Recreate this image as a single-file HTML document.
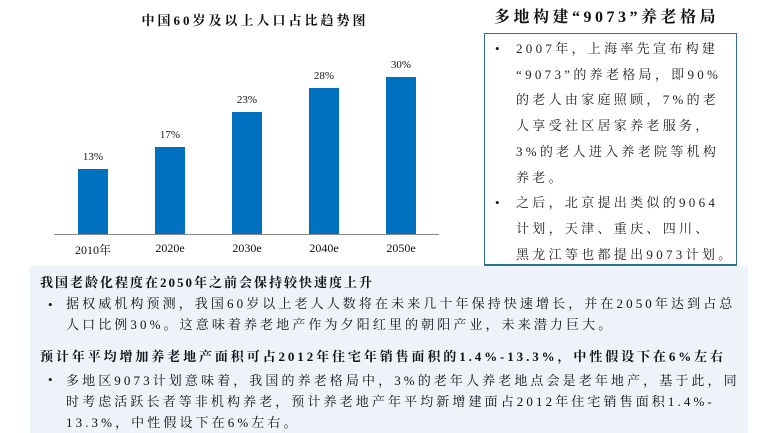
<!DOCTYPE html>
<html><head><meta charset="utf-8"><style>
*{margin:0;padding:0;box-sizing:border-box}
body{width:772px;height:433px;background:#fff;position:relative;overflow:hidden;font-family:"Liberation Serif","Noto Serif CJK SC",serif;color:#111}
.a{position:absolute;white-space:nowrap}
.bar{position:absolute;background:#0070c0;width:30px}
.lbl{position:absolute;font-size:11px;width:40px;text-align:center}
.cat{position:absolute;font-size:12px;width:60px;text-align:center;top:241px}
</style></head><body>
<div class="a" style="left:0;width:510px;top:10px;text-align:center;font-weight:bold;font-size:13px;letter-spacing:3px">中国60岁及以上人口占比趋势图</div>
<div class="a" style="left:54px;top:234px;width:385px;height:1px;background:#888"></div>
<div class="bar" style="left:78px;top:169px;height:65px"></div>
<div class="bar" style="left:155px;top:147px;height:87px"></div>
<div class="bar" style="left:232px;top:112px;height:122px"></div>
<div class="bar" style="left:309px;top:88px;height:146px"></div>
<div class="bar" style="left:386px;top:77px;height:157px"></div>
<div class="lbl" style="left:73px;top:151px">13%</div>
<div class="lbl" style="left:150px;top:129px">17%</div>
<div class="lbl" style="left:227px;top:94px">23%</div>
<div class="lbl" style="left:304px;top:70px">28%</div>
<div class="lbl" style="left:381px;top:59px">30%</div>
<div class="cat" style="left:63px">2010年</div>
<div class="cat" style="left:140px">2020e</div>
<div class="cat" style="left:217px">2030e</div>
<div class="cat" style="left:294px">2040e</div>
<div class="cat" style="left:371px">2050e</div>

<div class="a" style="left:494px;top:4px;font-weight:bold;font-size:16px;letter-spacing:3.5px">多地构建“9073”养老格局</div>
<div class="a" style="left:484px;top:33px;width:253px;height:232px;border:1px solid #31708f;background:#fff"></div>
<div class="a" style="left:495px;top:36px;font-size:13px;line-height:25.7px">
•<br><br><br><br><br><br>•</div>
<div class="a" style="left:516px;top:36px;font-size:13px;line-height:25.7px;color:#222;letter-spacing:3.3px">2007年，上海率先宣布构建<br>“9073”的养老格局，即90%<br>的老人由家庭照顾，7%的老<br>人享受社区居家养老服务，<br>3%的老人进入养老院等机构<br>养老。<br>之后，北京提出类似的9064<br>计划，天津、重庆、四川、<br>黑龙江等也都提出9073计划。</div>

<div class="a" style="left:30px;top:266px;width:718px;height:167px;background:#eef3fa"></div>
<div class="a" style="left:484px;top:265px;width:253px;height:1px;background:#31708f"></div>
<div class="a" style="left:40px;top:272px;font-weight:bold;font-size:13px;letter-spacing:2px">我国老龄化程度在2050年之前会保持较快速度上升</div>
<div class="a" style="left:48px;top:295px;font-size:13px;line-height:20px">•</div>
<div class="a" style="left:66px;top:293px;font-size:13px;line-height:21px;letter-spacing:3.1px">据权威机构预测，我国60岁以上老人人数将在未来几十年保持快速增长，并在2050年达到占总<br>人口比例30%。这意味着养老地产作为夕阳红里的朝阳产业，未来潜力巨大。</div>
<div class="a" style="left:40px;top:346px;font-weight:bold;font-size:13px;letter-spacing:2.9px">预计年平均增加养老地产面积可占2012年住宅年销售面积的1.4%-13.3%，中性假设下在6%左右</div>
<div class="a" style="left:48px;top:372px;font-size:13px">•</div>
<div class="a" style="left:66px;top:370px;font-size:13px;line-height:21px;letter-spacing:3.1px">多地区9073计划意味着，我国的养老格局中，3%的老年人养老地点会是老年地产，基于此，同<br>时考虑活跃长者等非机构养老，预计养老地产年平均新增建面占2012年住宅销售面积1.4%-<br>13.3%，中性假设下在6%左右。</div>
</body></html>
